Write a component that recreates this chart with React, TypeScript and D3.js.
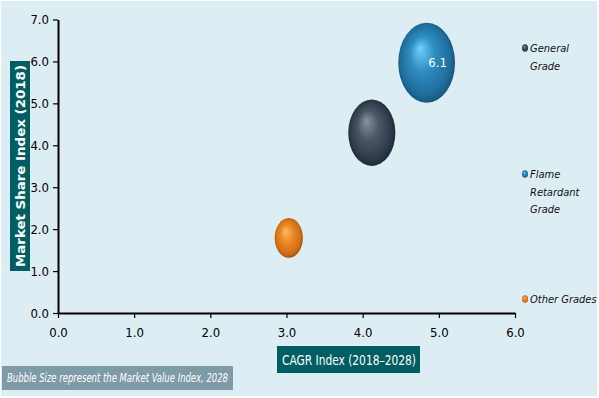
import React, { useEffect, useRef } from "react";
import * as d3 from "d3";

// chart values
const grades = ["General Grade", "Flame Retardant Grade", "Other Grades"];
const cagr = [4.12, 4.84, 3.03];
const share = [4.3, 5.97, 1.79];
const marketValue = [4.2, 6.1, 1.5];
const xTicks = [0, 1, 2, 3, 4, 5, 6];
const yTicks = [0, 1, 2, 3, 4, 5, 6, 7];
const legendLines = [["General", "Grade"], ["Flame", "Retardant", "Grade"], ["Other Grades"]];

const gradStops = [
  ["#87949e", "#4a5767", "#2e3947", "#1a222c"],
  ["#72d0f8", "#2f8dc1", "#1e6d9b", "#154a6c"],
  ["#fbbd68", "#ec8a25", "#d06e14", "#8a480e"],
];

const W = 599;
const H = 398;
const condensed = "'DejaVu Sans Condensed', 'Liberation Sans Narrow', sans-serif";

export default function App() {
  const ref = useRef<SVGSVGElement>(null);

  useEffect(() => {
    const svg = d3.select(ref.current);
    svg.selectAll("*").remove();

    const x = d3.scaleLinear().domain([0, 6]).range([58, 515]);
    const y = d3.scaleLinear().domain([0, 7]).range([313, 19.5]);
    const r = d3.scaleSqrt().domain([0, 6.1]).range([0, 40]);

    svg.append("rect").attr("x", 1).attr("y", 1).attr("width", W - 3).attr("height", H - 3).attr("fill", "#dcedf3");

    const defs = svg.append("defs");
    gradStops.forEach((stops, i) => {
      const g = defs.append("radialGradient").attr("id", "bub" + i)
        .attr("cx", "50%").attr("cy", "50%").attr("r", "55%").attr("fx", "38%").attr("fy", "32%");
      [0, 0.4, 0.8, 1].forEach((o, j) => g.append("stop").attr("offset", o).attr("stop-color", stops[j]));
    });

    // axes
    const yAxis = svg.append("g").attr("transform", `translate(58,0)`)
      .call(d3.axisLeft(y).tickValues(yTicks).tickSize(5).tickSizeOuter(0).tickPadding(4).tickFormat(d3.format(".1f")));
    const xAxis = svg.append("g").attr("transform", `translate(0,313)`)
      .call(d3.axisBottom(x).tickValues(xTicks).tickSize(5).tickSizeOuter(0).tickPadding(10).tickFormat(d3.format(".1f")));
    [yAxis, xAxis].forEach(a => {
      a.select(".domain").attr("stroke", "#000").attr("stroke-width", 2);
      a.selectAll(".tick line").attr("stroke", "#000").attr("stroke-width", 1.2);
      a.selectAll(".tick text").attr("fill", "#000").style("font-family", condensed).style("font-size", "13px");
    });

    // bubbles
    const idx = d3.range(grades.length);
    svg.append("g").selectAll("ellipse").data(idx).join("ellipse")
      .attr("cx", i => x(cagr[i]))
      .attr("cy", i => y(share[i]))
      .attr("ry", i => r(marketValue[i]))
      .attr("rx", i => r(marketValue[i]) * 0.71)
      .attr("fill", i => `url(#bub${i})`);

    svg.append("text").attr("x", x(cagr[1]) + 11).attr("y", y(share[1]) + 4)
      .attr("text-anchor", "middle").attr("fill", "#fff")
      .style("font-family", condensed).style("font-size", "13px")
      .text(d3.format(".1f")(marketValue[1]));

    // legend
    const legendY = [48, 174, 299];
    const leg = svg.append("g").selectAll("g").data(idx).join("g")
      .attr("transform", i => `translate(525,${legendY[i]})`);
    leg.append("ellipse").attr("rx", 3).attr("ry", 3.8).attr("fill", i => `url(#bub${i})`);
    leg.each(function (i) {
      const g = d3.select(this);
      legendLines[i].forEach((t, k) => {
        g.append("text").attr("x", 5).attr("y", 4 + k * 17.5)
          .attr("fill", "#111").style("font-family", condensed).style("font-style", "italic").style("font-size", "11px")
          .text(t);
      });
    });

    // y axis title
    svg.append("rect").attr("x", 10).attr("y", 61).attr("width", 20).attr("height", 210).attr("fill", "#005e62");
    svg.append("text").attr("transform", `translate(24.5,166) rotate(-90)`).attr("text-anchor", "middle")
      .attr("fill", "#fff").style("font-family", "'DejaVu Sans', sans-serif").style("font-weight", "bold").style("font-size", "12.5px")
      .attr("textLength", 202).attr("lengthAdjust", "spacingAndGlyphs")
      .text("Market Share Index (2018)");

    // x axis title
    svg.append("rect").attr("x", 277).attr("y", 346).attr("width", 143).attr("height", 27).attr("fill", "#005e62");
    svg.append("text").attr("x", 349).attr("y", 365).attr("text-anchor", "middle")
      .attr("fill", "#fff").style("font-family", condensed).style("font-size", "14px")
      .attr("textLength", 134).attr("lengthAdjust", "spacingAndGlyphs")
      .text("CAGR Index (2018\u20132028)");

    // footnote
    svg.append("rect").attr("x", 2).attr("y", 366).attr("width", 231).attr("height", 24).attr("fill", "#7e9ba7");
    svg.append("text").attr("x", 7).attr("y", 382)
      .attr("fill", "#fff").style("font-family", condensed).style("font-style", "italic").style("font-size", "11.5px")
      .attr("textLength", 221).attr("lengthAdjust", "spacingAndGlyphs")
      .text("Bubble Size represent the Market Value Index, 2028");
  }, []);

  return <svg ref={ref} width={W} height={H} style={{ position: "absolute", left: 0, top: 0, background: "#fff" }} />;
}
